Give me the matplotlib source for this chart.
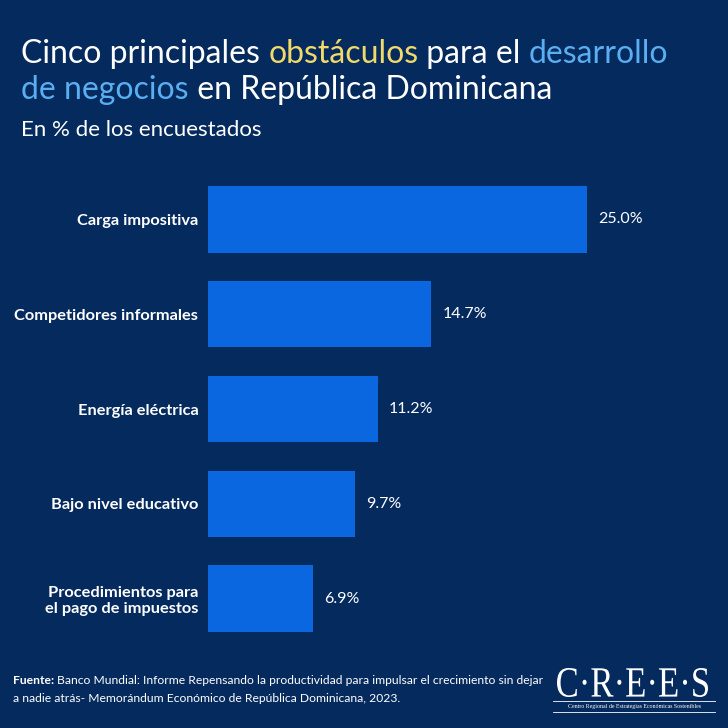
import matplotlib
matplotlib.use("Agg")
import matplotlib.pyplot as plt
from matplotlib.lines import Line2D
from matplotlib.textpath import TextPath
from matplotlib.patches import PathPatch
from matplotlib.font_manager import FontProperties
from matplotlib.transforms import Affine2D, IdentityTransform

categories = ["Carga impositiva", "Competidores informales", "Energía eléctrica",
              "Bajo nivel educativo", "Procedimientos para\nel pago de impuestos"]
values = [25.0, 14.7, 11.2, 9.7, 6.9]
value_labels = ["25.0%", "14.7%", "11.2%", "9.7%", "6.9%"]

BG = "#052A5E"
BAR = "#0A67E0"
YEL = "#F2DA6A"
LBLUE = "#5AAEF2"
W = 728

plt.rcParams['font.family'] = ['Lato', 'DejaVu Sans']
fig = plt.figure(figsize=(7.28, 7.28), dpi=100, facecolor=BG)

left_px, right_px = 208, 700
top_px, bottom_px = 172, 646
ax = fig.add_axes([left_px / W, 1 - bottom_px / W, (right_px - left_px) / W, (bottom_px - top_px) / W])
ax.set_facecolor(BG)
xmax = (right_px - left_px) / 15.16
ax.set_xlim(0, xmax)
ypos = list(range(len(categories)))
ax.barh(ypos, values, height=0.7, color=BAR)
ax.set_ylim(len(categories) - 0.5, -0.5)
for y, v, lab in zip(ypos, values, value_labels):
    ax.text(v + 0.75, y, lab, va="center", ha="left", color="white", fontsize=11.5)
ax.set_yticks(ypos)
ax.set_yticklabels(categories, color="white", fontsize=11.8, fontweight="bold")
ax.tick_params(axis="y", length=0, pad=7)
ax.set_xticks([])
for s in ax.spines.values():
    s.set_visible(False)

fig.canvas.draw()
renderer = fig.canvas.get_renderer()

def draw_pieces(pieces, x_px, y_px, size, weight="normal"):
    x = x_px
    for txt, col in pieces:
        t = fig.text(x / W, 1 - y_px / W, txt, color=col, fontsize=size,
                     fontweight=weight, ha="left", va="baseline")
        bb = t.get_window_extent(renderer=renderer)
        x += bb.width
    return x

draw_pieces([("Cinco principales ", "white"), ("obstáculos", YEL),
             (" para el ", "white"), ("desarrollo", LBLUE)], 21, 63, 23)
draw_pieces([("de negocios", LBLUE), (" en República Dominicana", "white")], 21, 99, 23)
fig.text(21 / W, 1 - 136 / W, "En % de los encuestados", color="white", fontsize=16,
         ha="left", va="baseline")

# Footer
xe = draw_pieces([("Fuente:", "white")], 13, 684, 8.7, weight="bold")
fig.text((xe + 3) / W, 1 - 684 / W,
         "Banco Mundial: Informe Repensando la productividad para impulsar el crecimiento sin dejar",
         color="white", fontsize=8.7, ha="left", va="baseline")
fig.text(13 / W, 1 - 702 / W,
         "a nadie atrás- Memorándum Económico de República Dominicana, 2023.",
         color="white", fontsize=8.7, ha="left", va="baseline")

# Logo: scaled text path into box x 557..708, y 668..697 (pixels from top)
tp = TextPath((0, 0), "C·R·E·E·S", size=40,
              prop=FontProperties(family=["Liberation Serif", "DejaVu Serif"]))
ext = tp.get_extents()
bx0, bx1, by0, by1 = 557, 708, 668, 697
sx = (bx1 - bx0) / ext.width
sy = (by1 - by0) / ext.height
trans = Affine2D().translate(-ext.x0, -ext.y0).scale(sx, sy).translate(bx0, W - by1)
fig.add_artist(PathPatch(tp, transform=trans, facecolor="white", edgecolor="none"))
fig.add_artist(Line2D([553 / W, 715 / W], [1 - 701 / W, 1 - 701 / W], color="white", lw=0.6))
fig.text(634 / W, 1 - 708 / W, "Centro Regional de Estrategias Económicas Sostenibles",
         color="white", fontsize=4.2, family=["Liberation Serif", "DejaVu Serif"],
         ha="center", va="baseline")
fig.add_artist(Line2D([553 / W, 715 / W], [1 - 712 / W, 1 - 712 / W], color="white", lw=0.6))

fig.savefig("out.png", dpi=100, facecolor=BG)
